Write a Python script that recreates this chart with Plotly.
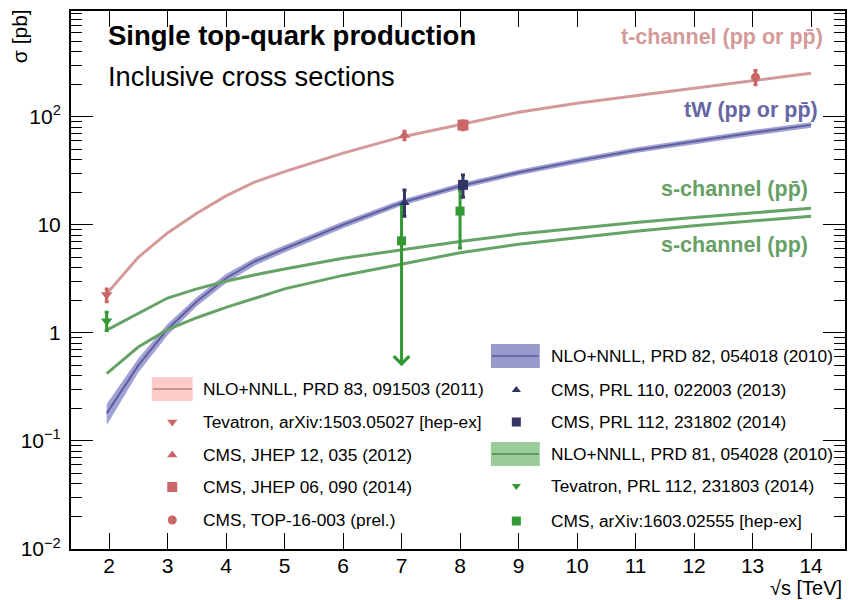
import math
import plotly.graph_objects as go

# ---------------- data ----------------
energy = [1.96, 2.5, 3, 3.5, 4, 4.5, 5, 6, 7, 8, 9, 10, 11, 12, 13, 14]
t_channel = [2.3, 5.0, 8.4, 12.8, 18.5, 25, 31, 46, 65, 85, 110, 133, 156, 183, 215, 252]
tw = [0.18, 0.50, 1.08, 1.95, 3.2, 4.6, 6.0, 10.0, 16.0, 22.8, 30.5, 39, 49, 59, 71, 84]
tw_hi = [0.22, 0.58, 1.21, 2.15, 3.5, 4.97, 6.45, 10.7, 17.0, 24.2, 32.3, 41.3, 51.9, 62.5, 75.3, 89.0]
tw_lo = [0.14, 0.43, 0.95, 1.76, 2.9, 4.23, 5.55, 9.3, 15.0, 21.4, 28.7, 36.7, 46.1, 55.5, 66.7, 79.0]
s_ppbar = [1.06, 1.52, 2.1, 2.55, 3.0, 3.45, 3.9, 4.9, 5.9, 7.0, 8.2, 9.3, 10.5, 11.7, 12.9, 14.2]
s_pp = [0.42, 0.74, 1.07, 1.38, 1.72, 2.1, 2.55, 3.4, 4.35, 5.5, 6.6, 7.6, 8.7, 9.8, 10.9, 12.0]

# measurements
tev_t_x, tev_t_y, tev_t_up, tev_t_dn = [1.96], [2.25], [0.29], [0.31]
cms_t12_x, cms_t12_y, cms_t12_err = [7], [67.2], [6.1]
cms_t14_x, cms_t14_y, cms_t14_err = [8], [83.6], [7.7]
cms_t16_x, cms_t16_y, cms_t16_err = [13], [232], [35]
cms_tw13_x, cms_tw13_y, cms_tw13_up, cms_tw13_dn = [7], [16.0], [5.0], [4.0]
cms_tw14_x, cms_tw14_y, cms_tw14_err = [8], [23.4], [5.4]
tev_s_x, tev_s_y, tev_s_up, tev_s_dn = [1.96], [1.29], [0.26], [0.24]
cms_s_x, cms_s_y, cms_s_up, cms_s_dn = [7, 8], [7.1, 13.4], [8.1, 7.3], [0.0, 7.3]
cms_s7_arrow_end = 0.49

x_ticks = list(range(2, 15))
y_ticks = [0.01, 0.1, 1, 10, 100]
y_ticktext = ["10<sup>\u22122</sup>", "10<sup>\u22121</sup>", "1", "10", "10<sup>2</sup>"]
y_minor = [m * 10.0 ** e for e in range(-2, 3) for m in range(2, 10)]

SHIFT = 0.05  # small horizontal display offset of CMS t-channel / tW points

PINK_LINE = "#d49a9a"
PINK_MARK = "#cc6666"
BLUE_BAND = "rgba(130,130,200,0.75)"
BLUE_LINE = "#5f5f9e"
NAVY = "#333366"
GREEN_LINE = "#66a366"
GREEN_MARK = "#339933"
FONT = "Liberation Sans, Arial, sans-serif"

fig = go.Figure()

# theory curves
fig.add_trace(go.Scatter(x=energy, y=tw_lo, mode="lines", line=dict(width=0), hoverinfo="skip", showlegend=False))
fig.add_trace(go.Scatter(x=energy, y=tw_hi, mode="lines", line=dict(width=0), fill="tonexty",
                         fillcolor=BLUE_BAND, showlegend=False))
fig.add_trace(go.Scatter(x=energy, y=tw, mode="lines", line=dict(color=BLUE_LINE, width=2), showlegend=False))
fig.add_trace(go.Scatter(x=energy, y=t_channel, mode="lines", line=dict(color=PINK_LINE, width=3), showlegend=False))
fig.add_trace(go.Scatter(x=energy, y=s_ppbar, mode="lines", line=dict(color=GREEN_LINE, width=3), showlegend=False))
fig.add_trace(go.Scatter(x=energy, y=s_pp, mode="lines", line=dict(color=GREEN_LINE, width=3), showlegend=False))


def err(plus, minus, color):
    return dict(type="data", symmetric=False, array=plus, arrayminus=minus,
                color=color, thickness=3, width=2)


def mk(symbol, size, color):
    return dict(symbol=symbol, size=size, color=color, opacity=1, line=dict(width=0))


# s-channel measurements
fig.add_trace(go.Scatter(x=tev_s_x, y=tev_s_y, mode="markers", marker=mk("triangle-down", 10, GREEN_MARK),
                         error_y=err(tev_s_up, tev_s_dn, GREEN_MARK), showlegend=False))
fig.add_trace(go.Scatter(x=cms_s_x, y=cms_s_y, mode="markers", marker=mk("square", 9, GREEN_MARK),
                         error_y=err(cms_s_up, cms_s_dn, GREEN_MARK), showlegend=False))
# t-channel measurements
fig.add_trace(go.Scatter(x=tev_t_x, y=tev_t_y, mode="markers", marker=mk("triangle-down", 10, PINK_MARK),
                         error_y=err(tev_t_up, tev_t_dn, PINK_MARK), showlegend=False))
fig.add_trace(go.Scatter(x=[v + SHIFT for v in cms_t12_x], y=cms_t12_y, mode="markers",
                         marker=mk("triangle-up", 10, PINK_MARK),
                         error_y=err(cms_t12_err, cms_t12_err, PINK_MARK), showlegend=False))
fig.add_trace(go.Scatter(x=[v + SHIFT for v in cms_t14_x], y=cms_t14_y, mode="markers",
                         marker=mk("square", 11, PINK_MARK),
                         error_y=err(cms_t14_err, cms_t14_err, PINK_MARK), showlegend=False))
fig.add_trace(go.Scatter(x=[v + SHIFT for v in cms_t16_x], y=cms_t16_y, mode="markers",
                         marker=mk("circle", 9, PINK_MARK),
                         error_y=err(cms_t16_err, cms_t16_err, PINK_MARK), showlegend=False))
# tW measurements
fig.add_trace(go.Scatter(x=[v + SHIFT for v in cms_tw13_x], y=cms_tw13_y, mode="markers",
                         marker=mk("triangle-up", 9, NAVY),
                         error_y=err(cms_tw13_up, cms_tw13_dn, NAVY), showlegend=False))
fig.add_trace(go.Scatter(x=[v + SHIFT for v in cms_tw14_x], y=cms_tw14_y, mode="markers",
                         marker=mk("square", 10, NAVY),
                         error_y=err(cms_tw14_err, cms_tw14_err, NAVY), showlegend=False))

annotations = []
# arrow for 7 TeV s-channel (lower error extends below zero)
annotations.append(dict(x=cms_s_x[0], y=math.log10(cms_s7_arrow_end), xref="x", yref="y",
                        ax=cms_s_x[0], ay=math.log10(cms_s_y[0]), axref="x", ayref="y",
                        showarrow=True, arrowhead=4, arrowsize=1.0, arrowwidth=3,
                        arrowcolor=GREEN_MARK, text=""))

# ---------------- overlay pixel axes for decorations ----------------
L, R, T, B = 71, 847, 11, 549


def txt(x, y, s, size, color="black", bold=False, xanchor="left", yanchor="middle", angle=0):
    if bold:
        s = "<b>" + s + "</b>"
    annotations.append(dict(x=x, y=y, xref="x2", yref="y2", text=s, showarrow=False,
                            xanchor=xanchor, yanchor=yanchor, textangle=angle,
                            font=dict(family=FONT, size=size, color=color)))


def ptxt(px, py, s, size, xanchor, yanchor, angle=0):
    annotations.append(dict(x=(px - L) / (R - L), y=(B - py) / (B - T), xref="paper", yref="paper",
                            text=s, showarrow=False, xanchor=xanchor, yanchor=yanchor,
                            textangle=angle, font=dict(family=FONT, size=size, color="black")))


txt(106, 35, "Single top-quark production", 27.5, bold=True)
txt(106, 76, "Inclusive cross sections", 27.3)
pbar = "p\u0304"
txt(827, 37, "t-channel (pp or p" + pbar + ")", 21.5, color="#d49a9a", bold=True, xanchor="right")
txt(822, 110, "tW (pp or p" + pbar + ")", 21.5, color="#6666a3", bold=True, xanchor="right")
txt(812, 189, "s-channel (p" + pbar + ")", 21.5, color="#66a066", bold=True, xanchor="right")
txt(812, 245, "s-channel (pp)", 21.5, color="#66a066", bold=True, xanchor="right")

# legend
LEG = 17.3
shapes = []


def band(x0, x1, yc, fill, line):
    shapes.append(dict(type="rect", xref="x2", yref="y2", x0=x0, x1=x1, y0=yc - 12, y1=yc + 12,
                       fillcolor=fill, line=dict(width=0)))
    shapes.append(dict(type="line", xref="x2", yref="y2", x0=x0 + 1, x1=x1 - 1, y0=yc, y1=yc,
                       line=dict(color=line, width=2)))


band(152, 193, 389, "#ffcccc", "#c89696")
band(492, 541, 356, "#9999cc", "#6a6aa6")
band(492, 541, 454, "#99cc99", "#5f9a5f")

left_rows = [389, 422, 455, 487, 520]
left_text = ["NLO+NNLL, PRD 83, 091503 (2011)", "Tevatron, arXiv:1503.05027 [hep-ex]",
             "CMS, JHEP 12, 035 (2012)", "CMS, JHEP 06, 090 (2014)", "CMS, TOP-16-003 (prel.)"]
right_rows = [356, 390, 422, 454, 486, 521]
right_text = ["NLO+NNLL, PRD 82, 054018 (2010)", "CMS, PRL 110, 022003 (2013)",
              "CMS, PRL 112, 231802 (2014)", "NLO+NNLL, PRD 81, 054028 (2010)",
              "Tevatron, PRL 112, 231803 (2014)", "CMS, arXiv:1603.02555 [hep-ex]"]
for yy, s in zip(left_rows, left_text):
    txt(201, yy, s, LEG)
for yy, s in zip(right_rows, right_text):
    txt(550, yy, s, LEG)

leg_x = [172.5] * 4 + [517.5] * 4
leg_y = left_rows[1:] + right_rows[1:3] + right_rows[4:]
leg_sym = ["triangle-down", "triangle-up", "square", "circle", "triangle-up", "square", "triangle-down", "square"]
leg_col = [PINK_MARK] * 4 + [NAVY] * 2 + [GREEN_MARK] * 2
leg_size = [9, 9, 10, 9, 8, 9, 8, 9]
fig.add_trace(go.Scatter(x=leg_x, y=leg_y, xaxis="x2", yaxis="y2", mode="markers",
                         marker=dict(symbol=leg_sym, color=leg_col, size=leg_size, opacity=1,
                                     line=dict(width=0)),
                         hoverinfo="skip", showlegend=False))

# axis titles
ptxt(20, 7, "\u03c3 [pb]", 21, xanchor="center", yanchor="top", angle=-90)
ptxt(846, 588, "\u221as [TeV]", 20, xanchor="right", yanchor="middle")

axis_common = dict(showline=True, linecolor="black", linewidth=2, mirror="allticks",
                   ticks="inside", tickcolor="black", tickwidth=1.3, showgrid=False, zeroline=False,
                   tickfont=dict(family=FONT, size=21, color="black"))

fig.update_layout(
    width=849, height=600,
    margin=dict(l=L, r=849 - R, t=T, b=600 - B),
    paper_bgcolor="white", plot_bgcolor="white",
    showlegend=False,
    xaxis=dict(range=[1.35, 14.58], tickmode="array", tickvals=x_ticks, ticklen=16,
               ticklabelstandoff=-3, **axis_common),
    yaxis=dict(type="log", range=[-2, 2.978], tickmode="array", tickvals=y_ticks, ticktext=y_ticktext,
               ticklen=22, ticklabelstandoff=4,
               minor=dict(tickmode="array", tickvals=y_minor, ticks="inside", ticklen=11,
                          tickwidth=1.3, tickcolor="black", showgrid=False),
               **axis_common),
    xaxis2=dict(overlaying="x", range=[L, R], visible=False, fixedrange=True),
    yaxis2=dict(overlaying="y", range=[B, T], visible=False, fixedrange=True),
    annotations=annotations,
    shapes=shapes,
)

fig.write_html("out.html")
